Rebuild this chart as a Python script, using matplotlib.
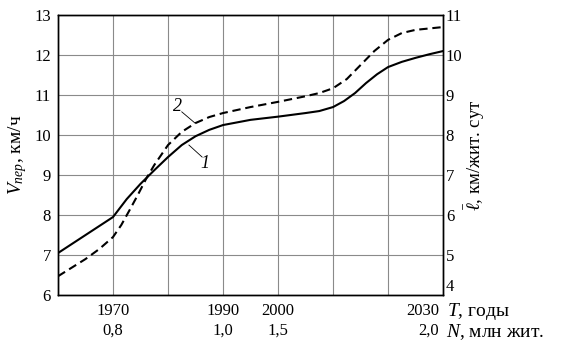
import numpy as np
import matplotlib
matplotlib.use('Agg')
import matplotlib.pyplot as plt
import matplotlib.transforms as mtransforms

plt.rcParams['font.family'] = ['Liberation Serif', 'DejaVu Serif']
plt.rcParams['mathtext.fontset'] = 'custom'
plt.rcParams['mathtext.rm'] = 'Liberation Serif'
plt.rcParams['mathtext.it'] = 'Liberation Serif:italic'

# position along the (non-uniform) time axis, in grid steps
x_pos = [0, 0.5, 1, 1.25, 1.5, 1.75, 2, 2.25, 2.5, 2.75, 3, 3.5, 4, 4.5, 4.75,
         5, 5.2, 5.4, 5.6, 5.8, 6, 6.25, 6.5, 6.75, 7]
# curve 1: V_пер, km/h (left axis)
v_per = [7.05, 7.5, 7.95, 8.4, 8.78, 9.12, 9.45, 9.75, 9.97, 10.13, 10.25,
         10.38, 10.46, 10.55, 10.6, 10.7, 10.85, 11.05, 11.3, 11.52, 11.7,
         11.83, 11.93, 12.02, 12.1]
# curve 2: mean trip length, km/inh. per day (right axis)
x_pos2 = [0, 0.5, 0.75, 1, 1.15, 1.3, 1.45, 1.6, 1.75, 2, 2.25, 2.5, 2.75, 3,
          3.5, 4, 4.5, 4.75, 5, 5.25, 5.5, 5.75, 6, 6.25, 6.5, 7]
l_mean = [4.47, 4.9, 5.15, 5.45, 5.75, 6.12, 6.5, 6.9, 7.25, 7.75, 8.08, 8.3,
          8.45, 8.55, 8.7, 8.83, 8.97, 9.05, 9.17, 9.4, 9.75, 10.1, 10.38,
          10.55, 10.63, 10.7]

year_ticks = [1, 3, 4, 7]
year_labels = ['1970', '1990', '2000', '2030']
pop_labels = ['0,8', '1,0', '1,5', '2,0']

fig = plt.figure(figsize=(5.63, 3.5), dpi=100)
ax = fig.add_axes([0.103, 0.157, 0.684, 0.8])
ax2 = ax.twinx()

ax.plot(x_pos, v_per, color='black', lw=1.5)
ax2.plot(x_pos2, l_mean, color='black', lw=1.5, dashes=(4, 2.3))

ax.set_xlim(0, 7)
ax.set_ylim(6, 13)
ax2.set_ylim(4, 11)
ax.set_yticks(range(6, 14))
ax2.set_yticks(range(4, 12))
ax.set_xticks(range(0, 8))
ax.set_xticklabels([])
ax.grid(True, color='#8a8a8a', lw=0.8)
ax.tick_params(length=0, labelsize=12, pad=5)
ax2.tick_params(length=0, labelsize=12, pad=2)
for a in (ax, ax2):
    for s in a.spines.values():
        s.set_linewidth(1.0)
# lift the lowest right label a little, as in the original
ax2.get_yticklabels()[0].set_verticalalignment('bottom')

# two rows of bottom labels
trans = mtransforms.blended_transform_factory(ax.transData, ax.transAxes)
for xt, yl, pl in zip(year_ticks, year_labels, pop_labels):
    ha = 'right' if xt == 7 else 'center'
    xo = -0.07 if xt == 7 else 0
    ax.text(xt + xo, -0.028, yl, transform=trans, ha=ha, va='top', fontsize=12)
    ax.text(xt + xo, -0.1, pl, transform=trans, ha=ha, va='top', fontsize=12)
ax.text(7.07, -0.02, '$\\mathit{T}$, годы', transform=trans, ha='left', va='top', fontsize=14)
ax.text(7.05, -0.097, '$\\mathit{N}$, млн жит.', transform=trans, ha='left', va='top', fontsize=14)

ax.set_ylabel('$V_{пер}$, км/ч', fontsize=14, labelpad=4)
ax2.set_ylabel('$\\bar{\\ell}$, км/жит. сут', fontsize=13.5, labelpad=0)

# curve labels with leader lines
ax.plot([2.25, 2.49], [10.58, 10.3], color='black', lw=0.6)
ax.text(2.18, 10.72, '2', fontsize=13, style='italic', ha='center', va='center')
ax.plot([2.38, 2.62], [9.75, 9.45], color='black', lw=0.6)
ax.text(2.67, 9.3, '1', fontsize=13, style='italic', ha='center', va='center')

fig.savefig('out.png', dpi=100)
